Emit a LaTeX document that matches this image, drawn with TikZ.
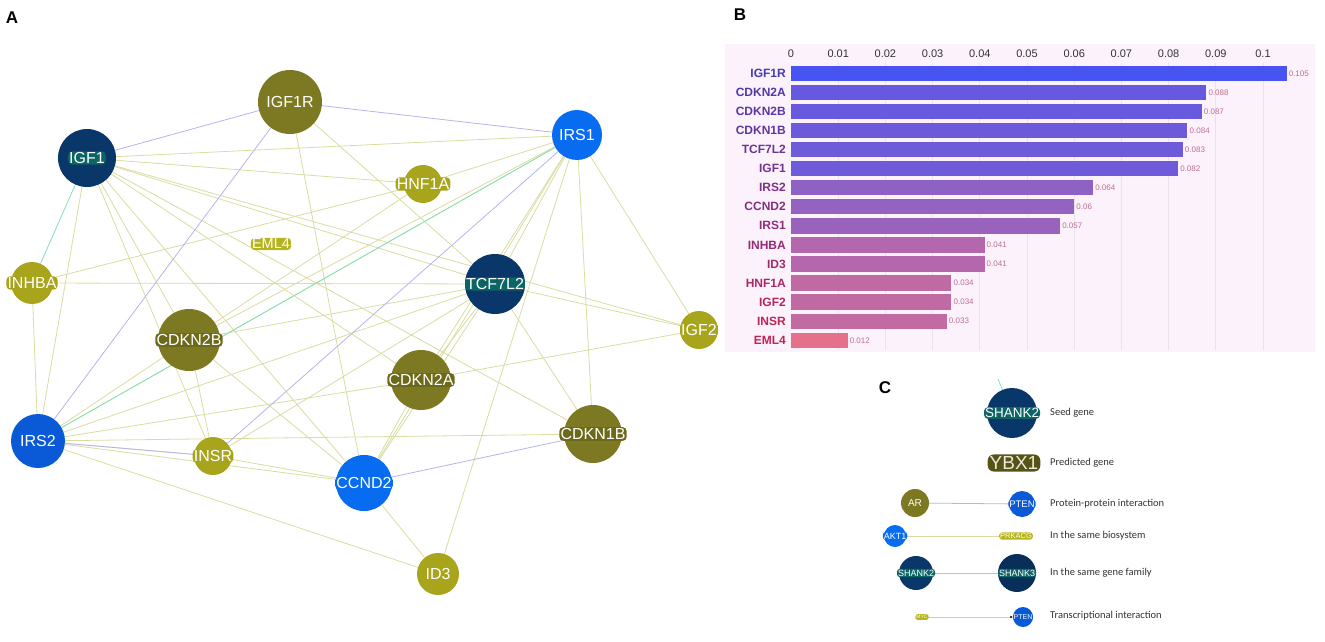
\documentclass[tikz,border=0pt]{standalone}
\usepackage{fontspec}
\setmainfont{Liberation Sans}
\newfontfamily\legfont{Carlito}
\usetikzlibrary{arrows.meta}
\pgfdeclarelayer{bg}
\pgfsetlayers{bg,main}
\definecolor{seednavy}{RGB}{10,55,105}
\definecolor{briteA}{RGB}{8,108,240}
\definecolor{briteB}{RGB}{10,90,215}
\definecolor{predolive}{RGB}{124,121,34}
\definecolor{predlight}{RGB}{168,164,28}
\definecolor{haloteal}{RGB}{12,100,100}
\definecolor{olivedk}{RGB}{108,105,26}
\definecolor{emlhalo}{RGB}{182,180,30}
\definecolor{bioline}{RGB}{218,220,160}
\definecolor{ppiline}{RGB}{180,180,240}
\definecolor{famline}{RGB}{130,225,185}
\definecolor{txline}{RGB}{200,200,215}
\definecolor{chartbg}{RGB}{252,242,251}
\definecolor{gridc}{RGB}{232,226,234}
\definecolor{barhi}{RGB}{72,84,242}
\definecolor{barlo}{RGB}{228,112,140}
\definecolor{labhi}{RGB}{70,58,180}
\definecolor{lablo}{RGB}{195,35,80}
\definecolor{valc}{RGB}{190,110,150}
\definecolor{legc}{RGB}{50,50,50}
\newcommand{\netfont}{\fontsize{16}{16}\selectfont}
\begin{document}
\begin{tikzpicture}[x=1pt, y=-1pt]
    \tikzstyle{gene} = [circle, inner sep=0pt]
    \tikzstyle{seed} = [gene, fill=seednavy]
    \tikzstyle{pred} = [gene, fill=predolive]
    \tikzstyle{predsm} = [gene, fill=predlight]
    \tikzstyle{brite} = [gene, fill=briteA]
    \tikzstyle{tag} = [rounded corners=4pt, inner sep=1.2pt, text=white, font=\netfont]
    \tikzstyle{bio} = [draw=bioline, line width=0.8pt]
    \tikzstyle{ppi} = [draw=ppiline, line width=0.8pt]
    \tikzstyle{fam} = [draw=famline, line width=0.8pt]
    \tikzstyle{panel} = [font=\fontsize{17}{17}\selectfont\bfseries]
    \tikzstyle{tick} = [font=\fontsize{11}{11}\selectfont, text=black!80]
    \tikzstyle{barlbl} = [anchor=east, inner sep=0pt,
    font=\fontsize{12}{12}\selectfont\bfseries]
    \tikzstyle{barval} = [anchor=west, inner sep=0pt, text=valc,
    font=\fontsize{8}{8}\selectfont]
    \tikzstyle{legtxt} = [anchor=west, inner sep=0pt, text=legc,
    font=\legfont\fontsize{10.5}{11}\selectfont]
    \useasboundingbox (0,0) rectangle (1325,642);
    \node[panel] (pA) at (12,18) {A};
    \node[panel] (pB) at (740,15) {B};
    \node[panel] (pC) at (885,388) {C};
    \node[pred, minimum size=64pt, label={[tag, fill=predolive]center:IGF1R}] (IGF1R) at (290,102) {};
    \node[seed, minimum size=58pt, label={[tag, fill=haloteal, inner sep=1pt]center:IGF1}] (IGF1) at (87,158) {};
    \node[brite, minimum size=50pt, label={[tag, fill=briteA]center:IRS1}] (IRS1) at (577,135) {};
    \node[predsm, minimum size=38pt, label={[tag, fill=predlight]center:HNF1A}] (HNF1A) at (423,184) {};
    \node[tag, fill=emlhalo, font=\fontsize{14.5}{15}\selectfont] (EML4) at (271,244) {EML4};
    \node[predsm, minimum size=42pt, label={[tag, fill=predlight]center:INHBA}] (INHBA) at (32,283) {};
    \node[seed, minimum size=60pt, label={[tag, fill=haloteal, inner sep=1pt]center:TCF7L2}] (TCF7L2) at (495,284) {};
    \node[predsm, minimum size=38pt, label={[tag, fill=predlight]center:IGF2}] (IGF2) at (699,330) {};
    \node[pred, minimum size=62pt, label={[tag, fill=olivedk]center:CDKN2B}] (CDKN2B) at (189,340) {};
    \node[pred, minimum size=60pt, label={[tag, fill=olivedk]center:CDKN2A}] (CDKN2A) at (421,380) {};
    \node[pred, minimum size=58pt, label={[tag, fill=olivedk]center:CDKN1B}] (CDKN1B) at (593,434) {};
    \node[brite, fill=briteB, minimum size=54pt, label={[tag, fill=briteB]center:IRS2}] (IRS2) at (38,441) {};
    \node[predsm, minimum size=38pt, label={[tag, fill=predlight]center:INSR}] (INSR) at (213,456) {};
    \node[brite, minimum size=56pt, label={[tag, fill=briteA]center:CCND2}] (CCND2) at (364,483) {};
    \node[predsm, minimum size=42pt, label={[tag, fill=predlight]center:ID3}] (ID3) at (438,574) {};
    \begin{pgfonlayer}{bg}
    \foreach \a/\b in {IGF1/IRS1, IGF1/HNF1A, IGF1/TCF7L2, IGF1/IGF2, IGF1/CDKN1B,
        IGF1/CDKN2A, IGF1/CCND2, IGF1/CDKN2B, IGF1/INSR, IGF1/IRS2, IGF1R/TCF7L2,
        IGF1R/CCND2, IRS1/HNF1A, IRS1/TCF7L2, IRS1/CDKN2A, IRS1/CCND2, IRS1/CDKN1B,
        IRS1/IGF2, IRS1/ID3, IRS1/CDKN2B, IRS1/IRS2, INHBA/HNF1A, INHBA/TCF7L2,
        INHBA/IRS2, HNF1A/CDKN2B, TCF7L2/CDKN2B, TCF7L2/IGF2, TCF7L2/CDKN1B,
        TCF7L2/CDKN2A, TCF7L2/CCND2, TCF7L2/IRS2, TCF7L2/INSR, CDKN2A/IGF2,
        CDKN2A/IRS2, CDKN2A/CCND2, CDKN2B/IRS2, CDKN2B/INSR, CDKN2B/CCND2,
        CDKN1B/IRS2, IRS2/INSR, IRS2/CCND2, IRS2/ID3, INSR/CCND2, CCND2/ID3}
        \draw[bio] (\a) -- (\b);
    \foreach \a/\b in {IGF1/IGF1R, IGF1R/IRS1, IGF1R/IRS2, IRS1/INSR, IRS2/INSR,
        CCND2/CDKN1B}
        \draw[ppi] (\a) -- (\b);
    \draw[fam] (IGF1) -- (INHBA);
    \draw[fam] (IRS1) -- (IRS2);
    \end{pgfonlayer}
    \fill[chartbg] (725,44) rectangle (1315,352);
    \foreach \k in {1,...,10} {
        \pgfmathsetmacro\xk{791+\k*47.2}
        \draw[gridc, line width=0.8pt] (\xk,63) -- (\xk,350);
    }
    \foreach \k/\t in {0/0, 1/0.01, 2/0.02, 3/0.03, 4/0.04, 5/0.05, 6/0.06,
        7/0.07, 8/0.08, 9/0.09, 10/0.1}
        \node[tick] (tk\k) at (791+\k*47.2,54) {\t};
    \foreach \g/\v [count=\i] in {IGF1R/0.105, CDKN2A/0.088, CDKN2B/0.087,
        CDKN1B/0.084, TCF7L2/0.083, IGF1/0.082, IRS2/0.064, CCND2/0.06,
        IRS1/0.057, INHBA/0.041, ID3/0.041, HNF1A/0.034, IGF2/0.034,
        INSR/0.033, EML4/0.012} {
        \pgfmathsetmacro\yy{73.3+(\i-1)*19.07}
        \pgfmathsetmacro\xe{791+\v*4720}
        \pgfmathtruncatemacro\pc{(\v-0.012)/0.093*100}
        \pgfmathtruncatemacro\lc{100-(\i-1)/14*100}
        \fill[fill=barhi!\pc!barlo] (791,\yy-7.7) rectangle (\xe,\yy+7.7);
        \node[barlbl, text=labhi!\lc!lablo] (lbl\i) at (786,\yy) {\g};
        \node[barval] (val\i) at (\xe+2,\yy) {\v};
    }
    \node[seed, minimum size=50pt, label={[tag, fill=haloteal, inner sep=1pt,
        font=\fontsize{13.5}{14}\selectfont]center:SHANK2}] (lgseed) at (1012,413) {};
    \coordinate (lgstub) at (998,379);
    \node[legtxt] (tseed) at (1050,413) {Seed gene};
    \node[tag, fill=olivedk!80!black, text=white!85!olivedk, rounded corners=6pt,
        inner sep=2pt, font=\fontsize{19}{19}\selectfont] (lgpred) at (1014,463) {YBX1};
    \node[legtxt] (tpred) at (1050,463) {Predicted gene};
    \node[pred, minimum size=28pt, label={[tag, fill=predolive,
        font=\fontsize{10}{10}\selectfont]center:AR}] (lgAR) at (915,503) {};
    \node[brite, fill=briteB, minimum size=26pt, label={[tag, fill=briteB, inner sep=1pt,
        rounded corners=3pt, font=\fontsize{9.5}{10}\selectfont]center:PTEN}] (lgPTENa) at (1022,504) {};
    \node[legtxt] (tppi) at (1050,504) {Protein-protein interaction};
    \node[brite, minimum size=22pt, label={[tag, fill=briteA, inner sep=1pt,
        rounded corners=3pt, font=\fontsize{9}{9}\selectfont]center:AKT1}] (lgAKT1) at (895,536) {};
    \node[tag, fill=emlhalo, inner sep=1pt, rounded corners=3pt,
        font=\fontsize{7.5}{8}\selectfont] (lgPRKACG) at (1016,536) {PRKACG};
    \node[legtxt] (tbio) at (1050,536) {In the same biosystem};
    \node[seed, minimum size=34pt, label={[tag, fill=haloteal, inner sep=1pt,
        rounded corners=3pt, font=\fontsize{9}{9}\selectfont]center:SHANK2}] (lgSHANKa) at (916,573) {};
    \node[seed, fill=seednavy!85!black, minimum size=38pt, label={[tag, fill=haloteal,
        inner sep=1pt, rounded corners=3pt, font=\fontsize{9}{9}\selectfont]center:SHANK3}]
        (lgSHANKb) at (1017,573) {};
    \node[legtxt] (tfam) at (1050,573) {In the same gene family};
    \node[tag, fill=emlhalo, inner sep=1pt, rounded corners=2pt,
        font=\fontsize{5}{5}\selectfont] (lgMYC) at (922,617) {MYC};
    \node[brite, fill=briteB, minimum size=20pt, label={[tag, fill=briteB, inner sep=0.6pt,
        rounded corners=2pt, font=\fontsize{7}{7}\selectfont]center:PTEN}] (lgPTENb) at (1023,617) {};
    \node[legtxt] (ttx) at (1050,616) {Transcriptional interaction};
    \begin{pgfonlayer}{bg}
    \draw[fam] (lgstub) -- (lgseed);
    \draw[ppi] (lgAR) -- (lgPTENa);
    \draw[bio] (lgAKT1) -- (lgPRKACG);
    \draw[fam] (lgSHANKa) -- (lgSHANKb);
    \end{pgfonlayer}
    \draw[txline, line width=0.8pt, -{Latex[length=2.5pt, width=2.5pt, black]}]
        (lgMYC) -- (lgPTENb);
\end{tikzpicture}
\end{document}
